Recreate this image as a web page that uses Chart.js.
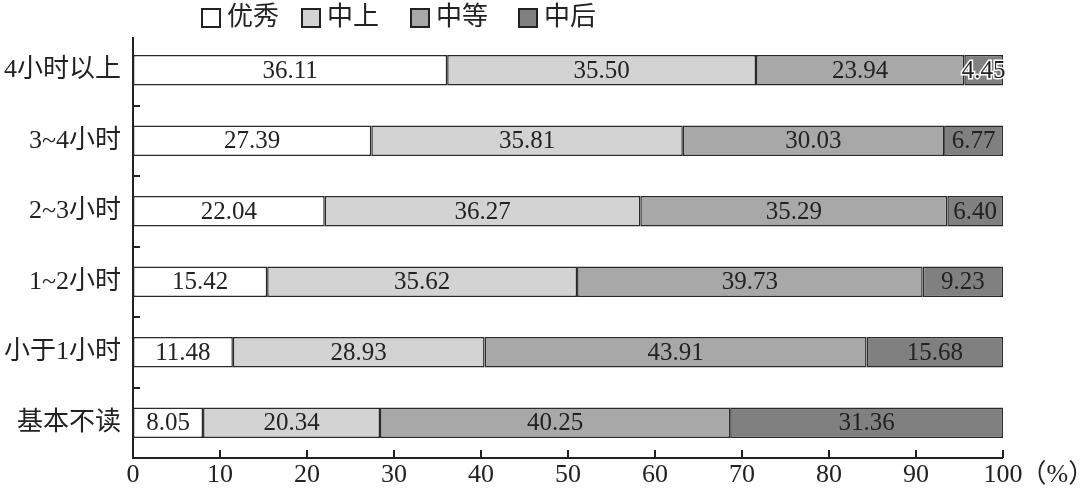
<!DOCTYPE html>
<html>
<head>
<meta charset="utf-8">
<script src="https://cdn.jsdelivr.net/npm/chart.js@4/dist/chart.umd.min.js"></script>
<style>
  html, body { margin: 0; padding: 0; background: #fff; }
  #wrap { width: 1080px; height: 491px; }
</style>
</head>
<body>
<div id="wrap"><canvas id="barChart"></canvas></div>
<script>
// 阅读时间与成绩分布
var categories = ['4小时以上', '3~4小时', '2~3小时', '1~2小时', '小于1小时', '基本不读'];
var seriesNames = ['优秀', '中上', '中等', '中后'];
var youxiu   = [36.11, 27.39, 22.04, 15.42, 11.48, 8.05];
var zhongshang = [35.50, 35.81, 36.27, 35.62, 28.93, 20.34];
var zhongdeng  = [23.94, 30.03, 35.29, 39.73, 43.91, 40.25];
var zhonghou   = [4.45, 6.77, 6.40, 9.23, 15.68, 31.36];
var xTicks = [0, 10, 20, 30, 40, 50, 60, 70, 80, 90, 100];

var FONT = '"Liberation Serif", "Noto Sans CJK SC", serif';
var INK = '#222222';
var colors = ['#ffffff', '#d3d3d3', '#a8a8a8', '#808080'];
var seriesData = [youxiu, zhongshang, zhongdeng, zhonghou];

var datasets = [];
for (var i = 0; i < seriesNames.length; ++i) {
    datasets.push({
        label: seriesNames[i],
        data: seriesData[i],
        backgroundColor: colors[i],
        borderColor: '#2a2a2a',
        borderWidth: 1.5,
        borderSkipped: false,
        barPercentage: 0.43,
        categoryPercentage: 1
    });
}

// 图例、数值标签、内向刻度
var decorPlugin = {
    id: 'decor',
    afterDatasetsDraw: function (chart) {
        var ctx = chart.ctx;
        var xs = chart.scales.x, ys = chart.scales.y;
        var area = chart.chartArea;
        ctx.save();

        // 数值标签
        ctx.font = '25px ' + FONT;
        ctx.textAlign = 'center';
        ctx.textBaseline = 'middle';
        chart.data.datasets.forEach(function (ds, di) {
            chart.getDatasetMeta(di).data.forEach(function (bar, j) {
                var txt = ds.data[j].toFixed(2);
                var cx = (bar.x + bar.base) / 2;
                var w = Math.abs(bar.x - bar.base);
                if (ctx.measureText(txt).width > w - 2) {
                    ctx.lineWidth = 3;
                    ctx.strokeStyle = '#ffffff';
                    ctx.strokeText(txt, cx, bar.y + 1);
                }
                ctx.fillStyle = INK;
                ctx.fillText(txt, cx, bar.y + 1);
            });
        });

        // 坐标轴
        ctx.strokeStyle = INK;
        ctx.lineWidth = 2;
        ctx.beginPath();
        ctx.moveTo(area.left, area.top + 2);
        ctx.lineTo(area.left, area.bottom);
        ctx.lineTo(xs.getPixelForValue(100), area.bottom);
        ctx.stroke();

        // x 轴刻度（向内）
        ctx.lineWidth = 2;
        xTicks.forEach(function (v) {
            if (v === 0) return;
            var px = Math.round(xs.getPixelForValue(v));
            ctx.beginPath();
            ctx.moveTo(px, area.bottom);
            ctx.lineTo(px, area.bottom - 8);
            ctx.stroke();
        });

        // y 轴刻度（类别之间）
        for (var k = 1; k < categories.length; ++k) {
            var py = Math.round((ys.getPixelForValue(k - 1) + ys.getPixelForValue(k)) / 2);
            ctx.beginPath();
            ctx.moveTo(area.left, py);
            ctx.lineTo(area.left + 7, py);
            ctx.stroke();
        }

        // (%)
        ctx.font = '26px ' + FONT;
        var hw = ctx.measureText('100').width / 2;
        ctx.textAlign = 'left';
        ctx.textBaseline = 'top';
        ctx.fillStyle = INK;
        ctx.fillText('（%）', xs.getPixelForValue(100) + hw - 2, area.bottom + 4);

        // 图例
        var lx = [202, 302, 411, 519];
        ctx.textBaseline = 'middle';
        chart.data.datasets.forEach(function (ds, di) {
            ctx.fillStyle = ds.backgroundColor;
            ctx.fillRect(lx[di], 9, 18, 18);
            ctx.lineWidth = 2;
            ctx.strokeStyle = INK;
            ctx.strokeRect(lx[di], 9, 18, 18);
            ctx.fillStyle = INK;
            ctx.fillText(ds.label, lx[di] + 25, 18);
        });

        ctx.restore();
    }
};

var chart = new Chart(document.getElementById('barChart').getContext('2d'), {
    type: 'bar',
    data: {
        labels: categories,
        datasets: datasets
    },
    options: {
        indexAxis: 'y',
        responsive: true,
        maintainAspectRatio: false,
        animation: false,
        layout: {
            padding: { top: 35, right: 77, left: 0, bottom: 0 }
        },
        plugins: {
            legend: { display: false },
            tooltip: { enabled: false }
        },
        scales: {
            x: {
                stacked: true,
                min: 0,
                max: 100,
                afterFit: function (scale) { scale.height = 33; },
                afterBuildTicks: function (scale) {
                    scale.ticks = xTicks.map(function (v) { return { value: v }; });
                },
                grid: { display: false, drawTicks: false },
                border: { display: false },
                ticks: {
                    color: INK,
                    padding: 2,
                    maxRotation: 0,
                    font: { family: FONT, size: 26 }
                }
            },
            y: {
                stacked: true,
                afterFit: function (scale) { scale.width = 133; },
                grid: { display: false, drawTicks: false },
                border: { display: false },
                ticks: {
                    color: INK,
                    padding: 12,
                    font: { family: FONT, size: 26 }
                }
            }
        }
    },
    plugins: [decorPlugin]
});
</script>
</body>
</html>
